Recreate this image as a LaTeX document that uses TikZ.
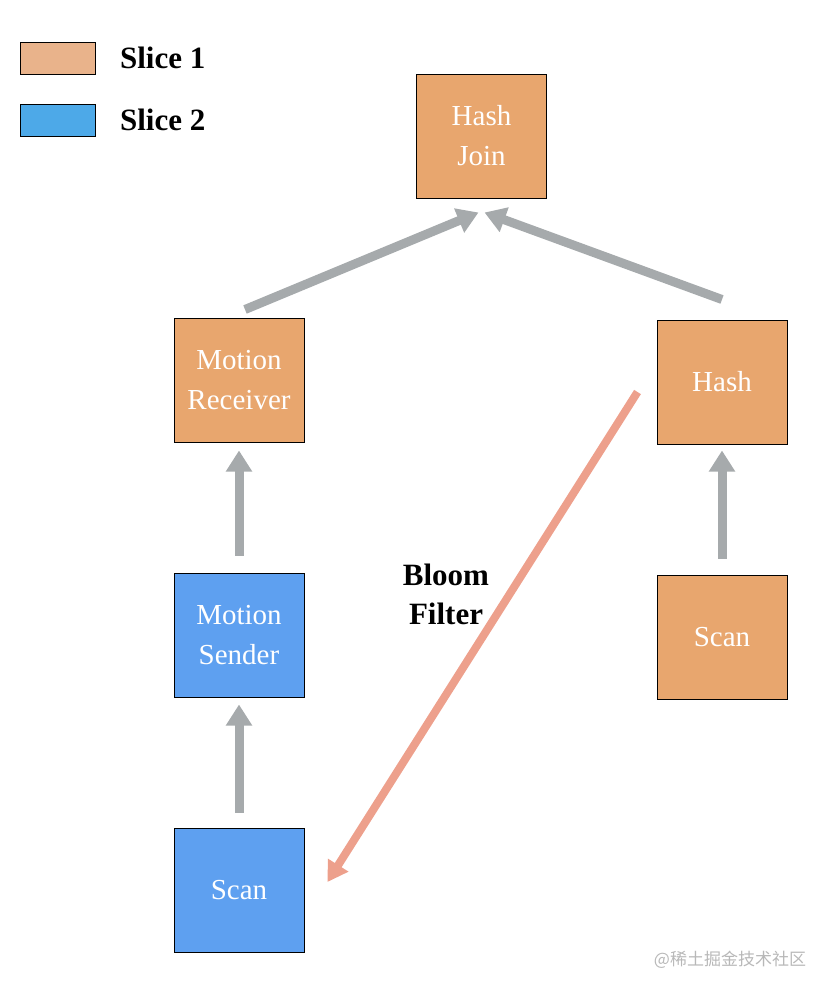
\documentclass[tikz,border=0pt]{standalone}
\usepackage{fontspec}
\setmainfont{Liberation Serif}
\newfontfamily\cjk{Noto Sans CJK SC}
\usepackage{tikz}
\usetikzlibrary{positioning}
\usetikzlibrary{arrows.meta}
\usepackage{xcolor}

\definecolor{sliceone}{RGB}{232,166,110}
\definecolor{slicetwo}{RGB}{94,160,240}
\definecolor{legone}{RGB}{233,179,139}
\definecolor{legtwo}{RGB}{77,169,232}
\definecolor{flowgray}{RGB}{166,170,172}
\definecolor{bloomred}{RGB}{237,160,140}

\begin{document}
\begin{tikzpicture}[x=1pt, y=-1pt, node distance=130pt,
  opbox/.style={rectangle, draw=black, line width=1pt, inner sep=0pt, minimum width=130pt, minimum height=124pt, align=center, text=white, font=\fontsize{29}{40}\selectfont},
  legbox/.style={rectangle, draw=black, line width=1pt, inner sep=0pt, minimum width=75pt, minimum height=32pt},
  legtext/.style={font=\bfseries\fontsize{31}{36}\selectfont, anchor=west},
  flow/.style={draw=flowgray, line width=9pt, -{Triangle[width=25pt,length=21pt]}},
  bloom/.style={draw=bloomred, line width=8pt, -{Triangle[width=23pt,length=20pt]}}]

\useasboundingbox (0,0) rectangle (834,996);

% Legend
\node (leg1) [legbox, fill=legone] at (57.5,58) {};
\node (leg2) [legbox, fill=legtwo, below=29pt of leg1] {};
\node (leg1txt) [legtext, right=21pt of leg1] {Slice 1};
\node (leg2txt) [legtext, right=21pt of leg2] {Slice 2};

% Nodes
\node (hashjoin) [opbox, fill=sliceone] at (481.5,136) {Hash\\Join};
\node (recv) [opbox, fill=sliceone] at (239,380) {Motion\\Receiver};
\node (send) [opbox, fill=slicetwo, below=of recv] {Motion\\Sender};
\node (scanl) [opbox, fill=slicetwo, below=of send] {Scan};
\node (hash) [opbox, fill=sliceone] at (722,382) {Hash};
\node (scanr) [opbox, fill=sliceone, below=of hash] {Scan};
\node (bf) [font=\bfseries\fontsize{31}{39}\selectfont, align=center] at (446,594) {Bloom\\Filter};
\node (mark) [font=\cjk\fontsize{17}{20}\selectfont, text=black!28] at (730,960) {@稀土掘金技术社区};

% Arrows
\draw[flow] ([xshift=6pt,yshift=8pt]recv.north) -- ([xshift=-3pt,yshift=-14pt]hashjoin.south);
\draw[flow] ([yshift=20pt]hash.north) -- ([xshift=3pt,yshift=-14pt]hashjoin.south);
\draw[flow] ([yshift=17pt]send.north) -- ([yshift=-8pt]recv.south);
\draw[flow] ([yshift=15pt]scanl.north) -- ([yshift=-7pt]send.south);
\draw[flow] ([yshift=16pt]scanr.north) -- ([yshift=-6pt]hash.south);
\draw[bloom] ([xshift=-19pt,yshift=-10pt]hash.west) -- ([xshift=23pt,yshift=8pt]scanl.east);

\end{tikzpicture}
\end{document}
